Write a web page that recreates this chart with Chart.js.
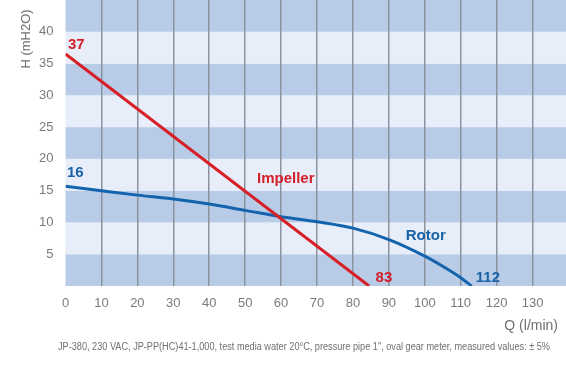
<!DOCTYPE html>
<html>
<head>
<meta charset="utf-8">
<script src="https://cdn.jsdelivr.net/npm/chart.js@4"></script>
<style>
  body { margin: 0; background: #fff; }
  #wrap { width: 566px; height: 366px; }
</style>
</head>
<body>
<div id="wrap"><canvas id="myChart" width="566" height="366"></canvas></div>
<script>
// flow Q (l/min) vs head H (mH2O)
const impellerQ = [0, 84.5];
const impellerH = [36.5, 0];
const rotorQ = [0, 10, 20, 30, 40, 50, 60, 70, 80, 90, 100, 105, 110, 113];
const rotorH = [15.7, 15.0, 14.3, 13.7, 12.9, 11.9, 10.9, 10.1, 9.1, 7.3, 4.7, 3.1, 1.3, 0];

const curveLabels = ['37', '16', 'Impeller', 'Rotor', '83', '112'];
const labelQ = [0.7, 0.4, 53.3, 94.7, 86.3, 114.2];
const labelH = [37.3, 17.1, 16.2, 7.2, 0.6, 0.6];
const labelColor = ['#d3202a', '#1a63a6', '#d3202a', '#1a63a6', '#d3202a', '#1a63a6'];

const xTitle = 'Q (l/min)';
const yTitle = 'H (mH2O)';
const footNote = 'JP-380, 230 VAC, JP-PP(HC)41-1,000, test media water 20°C, pressure pipe 1", oval gear meter, measured values: ± 5%';

const toPoints = (xs, ys) => xs.map((x, i) => ({ x: x, y: ys[i] }));

const bandsAndText = {
    id: 'bandsAndText',
    beforeDraw(chart) {
        const { ctx, chartArea, scales } = chart;
        const y = scales.y;
        ctx.save();
        for (let v = 0; v < 45; v += 5) {
            const top = y.getPixelForValue(v + 5);
            const bot = y.getPixelForValue(v);
            ctx.fillStyle = (v / 5) % 2 === 0 ? '#b8cce7' : '#e7eef9';
            ctx.fillRect(chartArea.left, top, chartArea.right - chartArea.left, bot - top);
        }
        ctx.restore();
    },
    afterDraw(chart) {
        const { ctx, scales } = chart;
        ctx.save();
        ctx.font = 'bold 15px "Liberation Sans", Arial, sans-serif';
        ctx.textAlign = 'left';
        ctx.textBaseline = 'alphabetic';
        curveLabels.forEach((t, i) => {
            ctx.fillStyle = labelColor[i];
            ctx.fillText(t, scales.x.getPixelForValue(labelQ[i]), scales.y.getPixelForValue(labelH[i]));
        });

        ctx.fillStyle = '#6f6f6f';
        ctx.font = '14px "Liberation Sans", Arial, sans-serif';
        ctx.textAlign = 'right';
        ctx.textBaseline = 'middle';
        ctx.fillText(xTitle, 558, 326);

        ctx.save();
        ctx.translate(26, 39);
        ctx.rotate(-Math.PI / 2);
        ctx.textAlign = 'center';
        ctx.font = '13px "Liberation Sans", Arial, sans-serif';
        ctx.fillText(yTitle, 0, 0);
        ctx.restore();

        // footnote is set in a condensed face; squeeze it to its width
        ctx.fillStyle = '#707070';
        ctx.font = '10px "Liberation Sans", Arial, sans-serif';
        ctx.textAlign = 'left';
        const w = ctx.measureText(footNote).width;
        ctx.translate(58, 347);
        ctx.scale(492 / w, 1);
        ctx.fillText(footNote, 0, 0);
        ctx.restore();
    }
};

const ctx = document.getElementById('myChart');
const myChart = new Chart(ctx, {
    type: 'line',
    data: {
        datasets: [{
            label: 'Impeller',
            data: toPoints(impellerQ, impellerH),
            borderColor: '#d61f26',
            borderWidth: 3,
            pointRadius: 0
        }, {
            label: 'Rotor',
            data: toPoints(rotorQ, rotorH),
            borderColor: '#1464ad',
            borderWidth: 3,
            pointRadius: 0,
            cubicInterpolationMode: 'monotone'
        }]
    },
    options: {
        responsive: false,
        animation: false,
        layout: { padding: 0 },
        plugins: {
            legend: { display: false },
            tooltip: { enabled: false }
        },
        scales: {
            x: {
                type: 'linear',
                min: 0,
                max: 139.3,
                afterFit(s) { s.height = 80; s.paddingLeft = 0; s.paddingRight = 0; },
                border: { display: false },
                grid: {
                    drawTicks: false,
                    lineWidth: 1.5,
                    color: c => c.tick && c.tick.value === 0 ? 'rgba(0,0,0,0)' : '#8a939e'
                },
                ticks: {
                    stepSize: 10,
                    includeBounds: false,
                    maxRotation: 0,
                    padding: 10,
                    color: '#7a7a7a',
                    font: { size: 13, family: '"Liberation Sans", Arial, sans-serif' }
                }
            },
            y: {
                min: 0,
                max: 45,
                afterFit(s) { s.width = 65.5; s.paddingTop = 0; s.paddingBottom = 0; },
                border: { display: false },
                grid: { display: false, drawTicks: false },
                ticks: {
                    stepSize: 5,
                    padding: 12,
                    color: '#7a7a7a',
                    font: { size: 13, family: '"Liberation Sans", Arial, sans-serif' },
                    callback: v => (v === 0 || v === 45) ? '' : v
                }
            }
        }
    },
    plugins: [bandsAndText]
});
</script>
</body>
</html>
